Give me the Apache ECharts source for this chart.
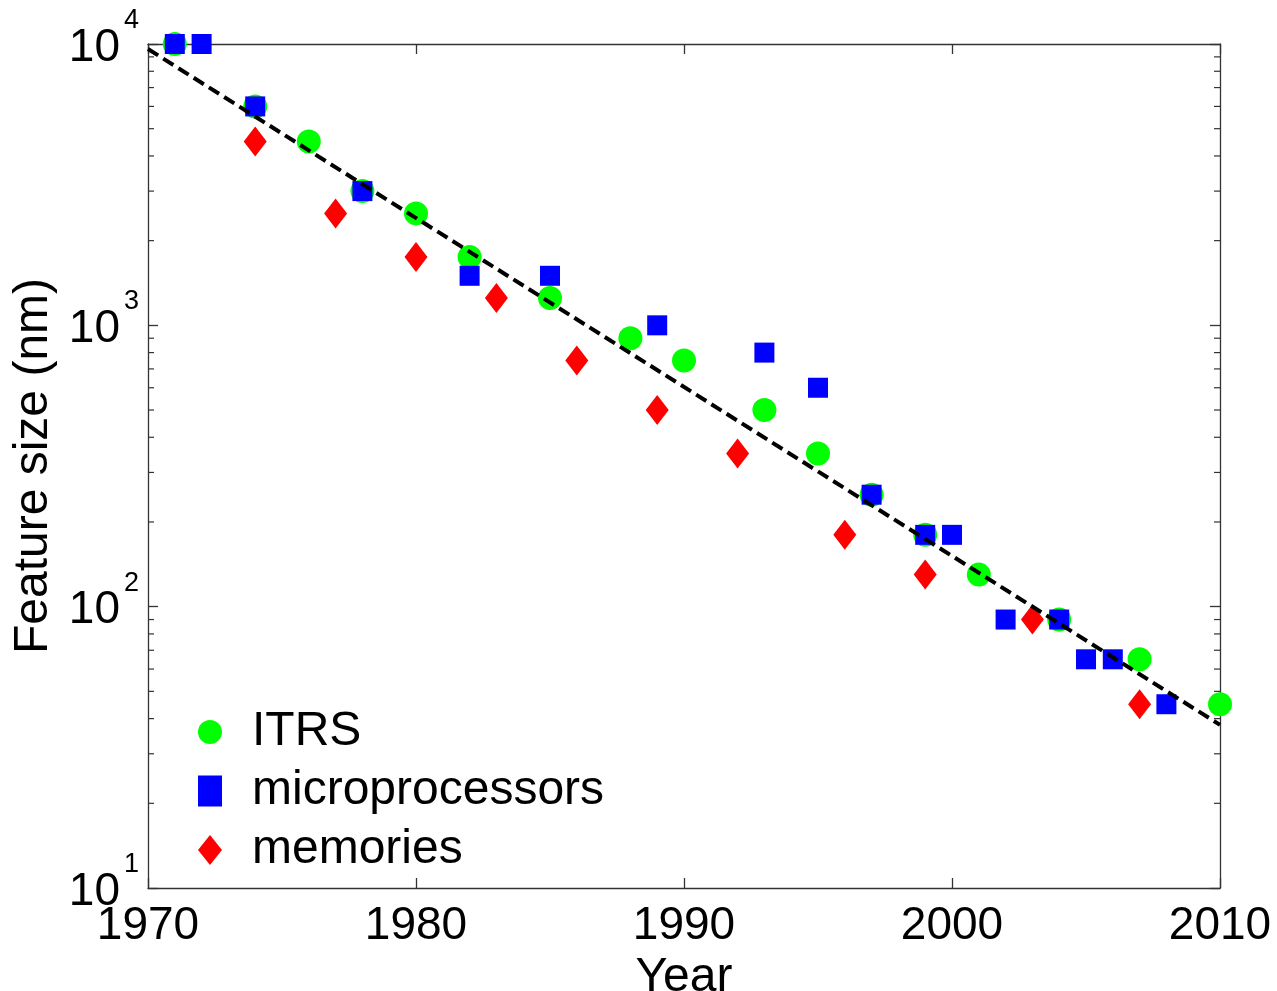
<!DOCTYPE html>
<html>
<head>
<meta charset="utf-8">
<script src="https://cdn.jsdelivr.net/npm/echarts@6/dist/echarts.min.js"></script>
<style>
  html, body { margin: 0; padding: 0; background: #fff; }
  #chart { width: 1277px; height: 991px; }
</style>
</head>
<body>
<div id="chart"></div>
<script>
const FONT = 'Liberation Sans';

const itrsYears = [1971, 1974, 1976, 1978, 1980, 1982, 1985, 1988, 1990, 1993, 1995, 1997, 1999, 2001, 2004, 2007, 2010];
const itrsSizes = [10000, 6000, 4500, 3000, 2500, 1750, 1250, 900, 750, 500, 350, 250, 180, 130, 90, 65, 45];

const cpuYears = [1971, 1972, 1974, 1978, 1982, 1985, 1989, 1993, 1995, 1997, 1999, 2000, 2002, 2004, 2005, 2006, 2008];
const cpuSizes = [10000, 10000, 6000, 3000, 1500, 1500, 1000, 800, 600, 250, 180, 180, 90, 90, 65, 65, 45];

const memYears = [1974, 1977, 1980, 1983, 1986, 1989, 1992, 1996, 1999, 2003, 2007];
const memSizes = [4500, 2500, 1750, 1250, 750, 500, 350, 180, 130, 90, 45];

// dashed trend line, end points
const trendYears = [1970, 2010];
const trendSizes = [9600, 38];

const minorTickValues = [20, 30, 40, 50, 60, 70, 80, 90,
  200, 300, 400, 500, 600, 700, 800, 900,
  2000, 3000, 4000, 5000, 6000, 7000, 8000, 9000];

function pairs(xs, ys) {
  return xs.map((x, i) => [x, ys[i]]);
}

const chart = echarts.init(document.getElementById('chart'));

const axisLine = { show: true, lineStyle: { color: '#333', width: 1.3 } };
const tickStyle = { inside: true, length: 10, lineStyle: { color: '#333', width: 1.3 } };

chart.setOption({
  animation: false,
  backgroundColor: '#fff',
  grid: { left: 148, top: 44, width: 1072, height: 844, outerBoundsMode: 'none', containLabel: false },
  legend: {
    orient: 'vertical',
    left: 198,
    top: 705,
    padding: 0,
    itemWidth: 24,
    itemHeight: 31,
    itemGap: 5,
    symbolKeepAspect: true,
    textStyle: { fontFamily: FONT, fontSize: 48, color: '#000', lineHeight: 48, padding: [6, 0, 0, 25] },
    data: [
      { name: 'ITRS', icon: 'circle' },
      { name: 'microprocessors', icon: 'rect' },
      { name: 'memories', icon: 'path://M12,0L24,15L12,30L0,15Z' }
    ]
  },
  xAxis: [{
    type: 'value',
    min: 1970,
    max: 2010,
    interval: 10,
    name: 'Year',
    nameLocation: 'middle',
    nameGap: 53,
    nameTextStyle: { fontFamily: FONT, fontSize: 48, color: '#000' },
    axisLine: axisLine,
    axisTick: tickStyle,
    axisLabel: { fontFamily: FONT, fontSize: 46, color: '#000', margin: 15, formatter: v => String(v) },
    splitLine: { show: false }
  }, {
    type: 'value',
    position: 'top',
    min: 1970,
    max: 2010,
    interval: 10,
    axisLine: axisLine,
    axisTick: tickStyle,
    axisLabel: { show: false },
    splitLine: { show: false }
  }],
  yAxis: [{
    type: 'log',
    logBase: 10,
    min: 10,
    max: 10000,
    name: 'Feature size (nm)',
    nameLocation: 'middle',
    nameGap: 88,
    nameTextStyle: { fontFamily: FONT, fontSize: 48, color: '#000' },
    axisLine: axisLine,
    axisTick: tickStyle,
    axisLabel: {
      margin: 9,
      color: '#000',
      formatter: v => '{b|10}{s|' + Math.round(Math.log10(v)) + '}',
      rich: {
        b: { fontFamily: FONT, fontSize: 46, color: '#000', lineHeight: 74, padding: [8, 0, 0, 0], verticalAlign: 'middle' },
        s: { fontFamily: FONT, fontSize: 27, color: '#000', lineHeight: 27, verticalAlign: 'top', padding: [0, 0, 0, 4] }
      }
    },
    splitLine: { show: false }
  }, {
    type: 'log',
    logBase: 10,
    position: 'right',
    min: 10,
    max: 10000,
    axisLine: axisLine,
    axisTick: tickStyle,
    axisLabel: { show: false },
    splitLine: { show: false }
  }],
  series: [
    {
      // minor log ticks on the left and right frame
      type: 'custom',
      silent: true,
      clip: false,
      data: minorTickValues.map(v => [1970, v]),
      renderItem: function (params, api) {
        const v = api.value(1);
        const l = api.coord([1970, v]);
        const r = api.coord([2010, v]);
        const st = { stroke: '#333', lineWidth: 1.2 };
        return {
          type: 'group',
          children: [
            { type: 'line', shape: { x1: l[0], y1: l[1], x2: l[0] + 6, y2: l[1] }, style: st },
            { type: 'line', shape: { x1: r[0], y1: r[1], x2: r[0] - 6, y2: r[1] }, style: st }
          ]
        };
      },
      z: 1
    },
    {
      name: 'ITRS',
      type: 'scatter',
      symbol: 'circle',
      symbolSize: 24,
      clip: false,
      itemStyle: { color: '#00ff00', opacity: 1 },
      data: pairs(itrsYears, itrsSizes),
      z: 2
    },
    {
      name: 'microprocessors',
      type: 'scatter',
      symbol: 'rect',
      symbolSize: 20,
      clip: false,
      itemStyle: { color: '#0000ff', opacity: 1 },
      data: pairs(cpuYears, cpuSizes),
      z: 3
    },
    {
      name: 'memories',
      type: 'scatter',
      symbol: 'diamond',
      symbolSize: [23, 30],
      clip: false,
      itemStyle: { color: '#ff0000', opacity: 1 },
      data: pairs(memYears, memSizes),
      z: 4
    },
    {
      name: 'trend',
      type: 'line',
      showSymbol: false,
      symbol: 'none',
      silent: true,
      data: pairs(trendYears, trendSizes),
      lineStyle: { color: '#000', width: 4, type: [12, 6] },
      z: 5
    }
  ]
});
</script>
</body>
</html>
